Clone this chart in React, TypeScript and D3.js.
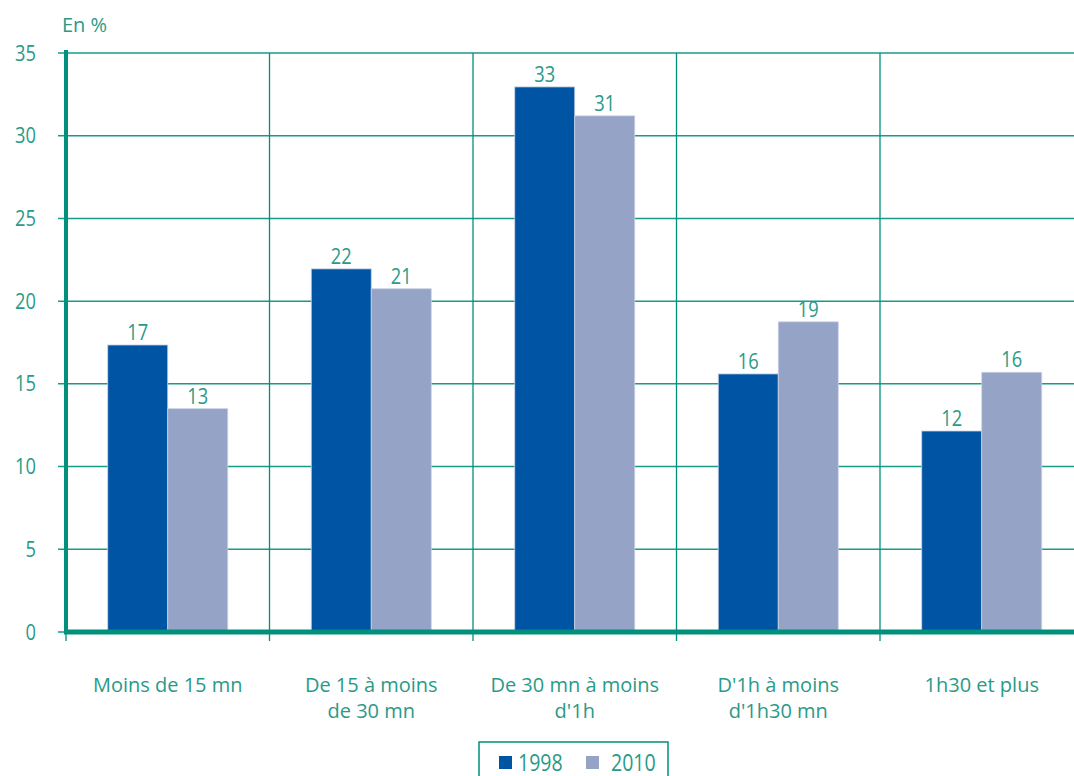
import React from "react";
import * as d3 from "d3";

const categories = [
  ["Moins de 15 mn"],
  ["De 15 à moins", "de 30 mn"],
  ["De 30 mn à moins", "d'1h"],
  ["D'1h à moins", "d'1h30 mn"],
  ["1h30 et plus"],
];
const series1998 = [17.35, 21.95, 32.95, 15.6, 12.15];
const series2010 = [13.5, 20.75, 31.2, 18.75, 15.7];
const labels1998 = ["17", "22", "33", "16", "12"];
const labels2010 = ["13", "21", "31", "19", "16"];
const yTicks = [0, 5, 10, 15, 20, 25, 30, 35];
const seriesNames = ["1998", "2010"];

const W = 1074;
const H = 776;
const left = 66;
const right = 1083.5;
const top = 53;
const bottom = 632;

const TEAL = "#00907c";
const TEXT = "#2a9a88";
const C1 = "#0054a4";
const C2 = "#95a3c6";
const FONT = "'Open Sans', 'Noto Sans', sans-serif";
const SX = 0.85;

function NumText({ x, y, anchor, size, children }: any) {
  return (
    <text
      transform={`translate(${x},${y}) scale(${SX},1)`}
      textAnchor={anchor}
      fill={TEXT}
      fontSize={size}
    >
      {children}
    </text>
  );
}

export default function App() {
  const x = d3
    .scaleBand<number>()
    .domain(d3.range(categories.length))
    .range([left, right])
    .paddingInner(0)
    .paddingOuter(0);
  const y = d3.scaleLinear().domain([0, 35]).range([bottom, top]);
  const bw = 60;
  const series = [series1998, series2010];
  const labels = [labels1998, labels2010];
  const colors = [C1, C2];

  return (
    <svg
      width={W}
      height={H}
      style={{ position: "absolute", left: 0, top: 0, background: "#fff" }}
      fontFamily={FONT}
    >
      {yTicks.map((t) => (
        <g key={t}>
          <line x1={left - 8} x2={W} y1={y(t)} y2={y(t)} stroke={TEAL} strokeWidth={1.5} opacity={0.9} />
          <NumText x={36} y={y(t) + 7.5} anchor="end" size={21.5}>
            {t}
          </NumText>
        </g>
      ))}
      {d3.range(categories.length + 1).map((i) => {
        const xx = left + i * x.bandwidth();
        return (
          <line key={i} x1={xx} x2={xx} y1={top} y2={bottom + 9} stroke={TEAL} strokeWidth={1.3} />
        );
      })}
      {categories.map((_, i) => {
        const cx = (x(i) as number) + x.bandwidth() / 2;
        return (
          <g key={i}>
            {series.map((s, k) => {
              const bx = cx - bw + k * bw;
              return (
                <g key={k}>
                  <rect
                    x={bx}
                    y={y(s[i])}
                    width={bw}
                    height={bottom - y(s[i])}
                    fill={colors[k]}
                    stroke="#c9d2e6"
                    strokeWidth={0.8}
                  />
                  <NumText x={bx + bw / 2} y={y(s[i]) - 5} anchor="middle" size={21.5}>
                    {labels[k][i]}
                  </NumText>
                </g>
              );
            })}
          </g>
        );
      })}
      <line x1={left} x2={left} y1={top - 3} y2={bottom} stroke={TEAL} strokeWidth={4} />
      <line x1={left - 2} x2={W} y1={bottom} y2={bottom} stroke={TEAL} strokeWidth={5} />
      {categories.map((lines, i) => {
        const cx = (x(i) as number) + x.bandwidth() / 2;
        return (
          <text key={i} x={cx} y={692} textAnchor="middle" fill={TEXT} fontSize={20}>
            {lines.map((l, j) => (
              <tspan key={j} x={cx} dy={j === 0 ? 0 : 26}>
                {l}
              </tspan>
            ))}
          </text>
        );
      })}
      <text x={62} y={32} fill={TEXT} fontSize={20}>
        En %
      </text>
      <rect x={479} y={742} width={189} height={40} fill="#fff" stroke={TEAL} strokeWidth={1.5} />
      {seriesNames.map((n, k) => (
        <g key={n}>
          <rect x={499 + k * 87} y={756} width={13} height={13} fill={colors[k]} />
          <NumText x={518 + k * 93} y={771} anchor="start" size={23}>
            {n}
          </NumText>
        </g>
      ))}
    </svg>
  );
}
